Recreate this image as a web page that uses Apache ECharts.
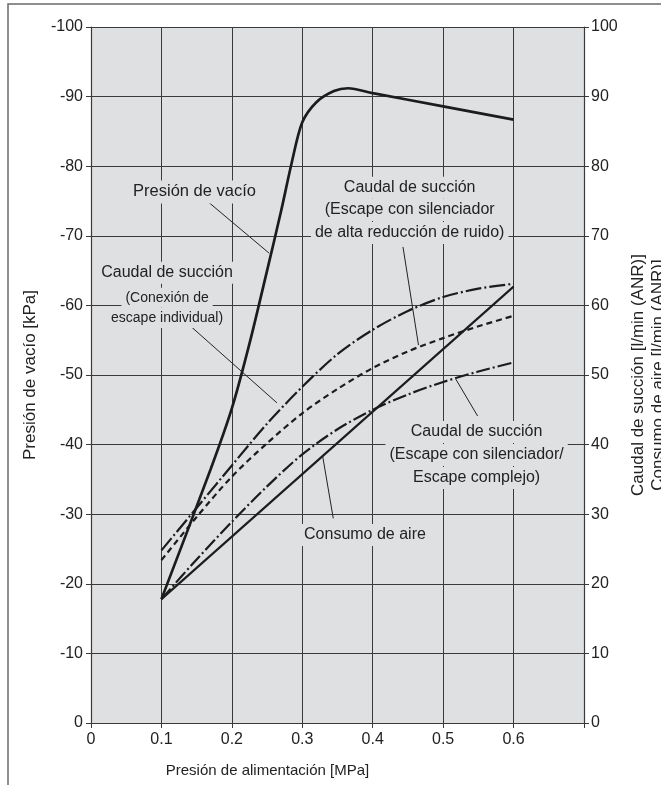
<!DOCTYPE html>
<html><head><meta charset="utf-8">
<script src="https://cdn.jsdelivr.net/npm/echarts@6/dist/echarts.min.js"></script>
<style>html,body{margin:0;padding:0;background:#fff}#c{width:661px;height:785px}</style>
</head><body><div id="c"></div><script>
// ---- data (x = supply pressure MPa) ----
const vacuumX = [0.1, 0.17, 0.2, 0.225, 0.25, 0.27, 0.285, 0.3, 0.32, 0.345, 0.365, 0.4, 0.5, 0.6];
const vacuumY = [-17.8, -36.5, -45.2, -54.5, -65, -73.6, -80.5, -86.3, -89.2, -90.8, -91.2, -90.5, -88.6, -86.7];
const indivX = [0.1, 0.2, 0.25, 0.3, 0.35, 0.4, 0.45, 0.5, 0.55, 0.6];
const indivY = [24.8, 37.0, 43.0, 48.3, 53.0, 56.5, 59.2, 61.2, 62.4, 63.1];
const highRedX = [0.1, 0.15, 0.2, 0.25, 0.3, 0.35, 0.4, 0.45, 0.5, 0.55, 0.6];
const highRedY = [23.4, 29.6, 35.4, 40.2, 44.5, 48.0, 51.0, 53.4, 55.3, 57.0, 58.5];
const silencerX = [0.1, 0.15, 0.2, 0.25, 0.3, 0.35, 0.4, 0.45, 0.5, 0.55, 0.6];
const silencerY = [17.8, 23.5, 28.9, 34.0, 38.6, 42.2, 45.0, 47.2, 49.0, 50.5, 51.8];
const airX = [0.1, 0.6];
const airY = [17.8, 62.7];
// leader lines [x1, y1, x2, y2] in data coords (right axis)
const leaders = [
  [0.166, 74.9, 0.253, 67.5],
  [0.136, 57.5, 0.264, 46.0],
  [0.443, 68.4, 0.465, 54.3],
  [0.549, 44.1, 0.518, 49.4],
  [0.329, 38.3, 0.344, 29.4]
];
// annotation texts [x, y, text, fontSize]
const notes = [
  [0.147, 76.3, 'Presión de vacío', 16.5],
  [0.108, 64.7, 'Caudal de succión', 16],
  [0.108, 61.1, '(Conexión de', 14],
  [0.108, 58.2, 'escape individual)', 14],
  [0.4525, 76.9, 'Caudal de succión', 16],
  [0.4525, 73.7, '(Escape con silenciador', 16],
  [0.4525, 70.4, 'de alta reducción de ruido)', 16],
  [0.5475, 41.8, 'Caudal de succión', 16],
  [0.5475, 38.5, '(Escape con silenciador/', 16],
  [0.5475, 35.2, 'Escape complejo)', 16],
  [0.389, 27.0, 'Consumo de aire', 16]
];
const xLabels = ['0', '0.1', '0.2', '0.3', '0.4', '0.5', '0.6'];

const FONT = '"Liberation Sans", Arial, Helvetica, sans-serif';
const TXT = '#222';
const LINE = '#1c1c1c';
const BG = '#dfe0e2';
const GRIDC = '#3a3a3a';

const zip = (xs, ys) => xs.map((x, i) => [x, ys[i]]);
const chart = echarts.init(document.getElementById('c'));

const leaderSeries = leaders.map(l => ({
  type: 'line', yAxisIndex: 1, data: [[l[0], l[1]], [l[2], l[3]]],
  symbol: 'none', silent: true, z: 3,
  lineStyle: { color: '#222', width: 1 }
}));

chart.setOption({
  animation: false,
  grid: { left: 91, right: 77, top: 27, bottom: 62, show: true, backgroundColor: BG, borderWidth: 0,
    containLabel: false, outerBoundsMode: 'none' },
  xAxis: {
    type: 'value', min: 0, max: 0.7, interval: 0.1,
    name: 'Presión de alimentación [MPa]', nameLocation: 'middle', nameGap: 40,
    nameTextStyle: { fontFamily: FONT, fontSize: 15, color: TXT, padding: [0, 140, 0, 0] },
    axisLine: { lineStyle: { color: GRIDC, width: 1.2 } },
    axisTick: { show: true, length: 5, lineStyle: { color: GRIDC } },
    axisLabel: { fontFamily: FONT, fontSize: 16, color: TXT, margin: 9,
      formatter: v => { const i = Math.round(v * 10); return i < xLabels.length ? xLabels[i] : ''; } },
    splitLine: { show: true, lineStyle: { color: GRIDC, width: 1 } }
  },
  yAxis: [{
    type: 'value', min: -100, max: 0, interval: 10, inverse: true, position: 'left',
    name: 'Presión de vacío [kPa]', nameLocation: 'middle', nameGap: 52, nameRotate: 90,
    nameTextStyle: { fontFamily: FONT, fontSize: 17, color: TXT },
    axisLine: { show: true, lineStyle: { color: GRIDC, width: 1.2 } },
    axisTick: { show: true, length: 5, lineStyle: { color: GRIDC } },
    axisLabel: { fontFamily: FONT, fontSize: 16, color: TXT, margin: 8 },
    splitLine: { show: true, lineStyle: { color: GRIDC, width: 1 } }
  }, {
    type: 'value', min: 0, max: 100, interval: 10, position: 'right',
    name: 'Caudal de succión [l/min (ANR)]\nConsumo de aire [l/min (ANR)]',
    nameLocation: 'middle', nameGap: 42, nameRotate: 90,
    nameTextStyle: { fontFamily: FONT, fontSize: 17, color: TXT, lineHeight: 20 },
    axisLine: { show: true, lineStyle: { color: GRIDC, width: 1.2 } },
    axisTick: { show: true, length: 5, lineStyle: { color: GRIDC } },
    axisLabel: { fontFamily: FONT, fontSize: 16, color: TXT, margin: 7 },
    splitLine: { show: false }
  }],
  series: [
    { name: 'Presión de vacío', type: 'line', yAxisIndex: 0, data: zip(vacuumX, vacuumY), smooth: 0.3,
      symbol: 'none', lineStyle: { color: LINE, width: 2.7 }, z: 5 },
    { name: 'Conexión de escape individual', type: 'line', yAxisIndex: 1, data: zip(indivX, indivY), smooth: 0.3,
      symbol: 'none', lineStyle: { color: LINE, width: 2.2, type: [16, 3, 2, 3] }, z: 5 },
    { name: 'Alta reducción de ruido', type: 'line', yAxisIndex: 1, data: zip(highRedX, highRedY), smooth: 0.3,
      symbol: 'none', lineStyle: { color: LINE, width: 2.2, type: [6, 4] }, z: 5 },
    { name: 'Escape con silenciador', type: 'line', yAxisIndex: 1, data: zip(silencerX, silencerY), smooth: 0.3,
      symbol: 'none', lineStyle: { color: LINE, width: 2.2, type: [14, 3, 2, 3] }, z: 5 },
    { name: 'Consumo de aire', type: 'line', yAxisIndex: 1, data: zip(airX, airY),
      symbol: 'none', lineStyle: { color: LINE, width: 2.1 }, z: 5 },
    ...leaderSeries
  ]
});

const g = [{
  type: 'rect', silent: true, z: 0,
  shape: { x: 8, y: 4, width: 720, height: 820 },
  style: { fill: 'none', stroke: '#6a6a6a', lineWidth: 1.5 }
}];
notes.forEach(n => {
  const p = chart.convertToPixel({ xAxisIndex: 0, yAxisIndex: 1 }, [n[0], n[1]]);
  g.push({
    type: 'text', x: p[0], y: p[1], z: 10, silent: true,
    style: { text: n[2], fontFamily: FONT, fontSize: n[3], fill: TXT, align: 'center', verticalAlign: 'middle',
      backgroundColor: BG, padding: [3, 4] }
  });
});
chart.setOption({ graphic: g });
</script></body></html>
